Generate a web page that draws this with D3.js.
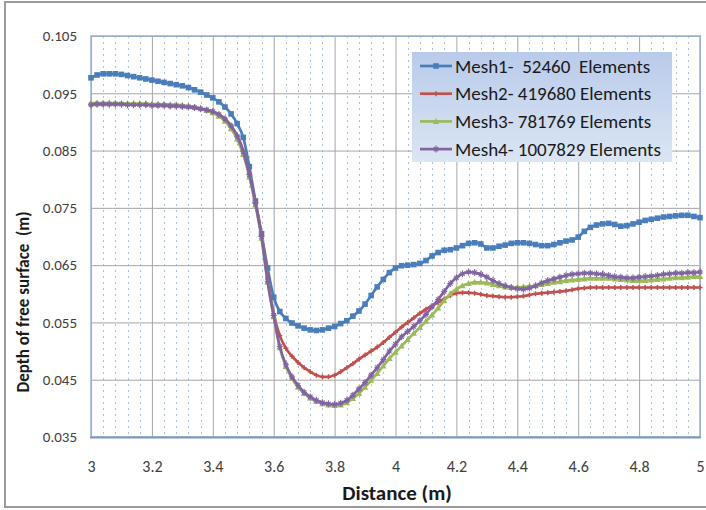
<!DOCTYPE html>
<html><head><meta charset="utf-8">
<script src="https://cdn.jsdelivr.net/npm/d3@7"></script>
<style>
html,body{margin:0;padding:0;background:#fff;}
svg text{font-family:Carlito,Lato,"Open Sans",sans-serif;white-space:pre;}
</style></head>
<body><svg id="c" width="706" height="510"></svg>
<script>
// ---------------- data ----------------
const distance = [
3.00,3.02,3.04,3.06,3.08,3.10,3.12,3.14,3.16,3.18,
3.20,3.22,3.24,3.26,3.28,3.30,3.32,3.34,3.36,3.38,
3.40,3.42,3.44,3.46,3.48,3.50,3.52,3.54,3.56,3.58,
3.60,3.62,3.64,3.66,3.68,3.70,3.72,3.74,3.76,3.78,
3.80,3.82,3.84,3.86,3.88,3.90,3.92,3.94,3.96,3.98,
4.00,4.02,4.04,4.06,4.08,4.10,4.12,4.14,4.16,4.18,
4.20,4.22,4.24,4.26,4.28,4.30,4.32,4.34,4.36,4.38,
4.40,4.42,4.44,4.46,4.48,4.50,4.52,4.54,4.56,4.58,
4.60,4.62,4.64,4.66,4.68,4.70,4.72,4.74,4.76,4.78,
4.80,4.82,4.84,4.86,4.88,4.90,4.92,4.94,4.96,4.98,
5.00];
const mesh1 = [
0.0977,0.0982,0.0984,0.0984,0.0984,0.0983,0.0981,0.0979,0.0977,0.0975,
0.0973,0.0971,0.0969,0.0967,0.0965,0.0963,0.0960,0.0956,0.0952,0.0947,
0.0942,0.0935,0.0926,0.0914,0.0897,0.0873,0.0822,0.0762,0.0705,0.0645,
0.0594,0.0569,0.0557,0.0549,0.0544,0.0540,0.0537,0.0536,0.0537,0.0540,
0.0543,0.0548,0.0553,0.0561,0.0570,0.0582,0.0597,0.0612,0.0625,0.0637,
0.0645,0.0649,0.0650,0.0651,0.0653,0.0658,0.0666,0.0672,0.0676,0.0677,
0.0680,0.0684,0.0688,0.0689,0.0687,0.0680,0.0680,0.0683,0.0685,0.0688,
0.0689,0.0689,0.0688,0.0686,0.0684,0.0684,0.0686,0.0689,0.0692,0.0694,
0.0699,0.0709,0.0716,0.0720,0.0722,0.0723,0.0721,0.0718,0.0719,0.0722,
0.0725,0.0728,0.0730,0.0732,0.0734,0.0735,0.0736,0.0737,0.0737,0.0735,
0.0733];
const mesh2 = [
0.0931,0.0931,0.0931,0.0931,0.0931,0.0931,0.0931,0.0930,0.0930,0.0930,
0.0930,0.0929,0.0929,0.0928,0.0928,0.0927,0.0926,0.0925,0.0923,0.0921,
0.0918,0.0913,0.0905,0.0893,0.0876,0.0850,0.0810,0.0760,0.0703,0.0628,
0.0565,0.0527,0.0505,0.0491,0.0480,0.0471,0.0464,0.0458,0.0455,0.0455,
0.0458,0.0464,0.0471,0.0478,0.0486,0.0493,0.0500,0.0507,0.0515,0.0524,
0.0533,0.0542,0.0550,0.0558,0.0566,0.0573,0.0579,0.0585,0.0591,0.0597,
0.0601,0.0602,0.0602,0.0601,0.0599,0.0597,0.0596,0.0595,0.0594,0.0594,
0.0595,0.0596,0.0598,0.0600,0.0601,0.0602,0.0603,0.0604,0.0605,0.0607,
0.0609,0.0610,0.0611,0.0611,0.0611,0.0611,0.0611,0.0611,0.0611,0.0611,
0.0611,0.0611,0.0611,0.0611,0.0611,0.0611,0.0611,0.0611,0.0611,0.0611,
0.0611];
const mesh3 = [
0.0933,0.0933,0.0933,0.0933,0.0933,0.0932,0.0932,0.0932,0.0932,0.0932,
0.0931,0.0931,0.0931,0.0930,0.0930,0.0929,0.0928,0.0926,0.0923,0.0920,
0.0916,0.0910,0.0901,0.0888,0.0870,0.0843,0.0804,0.0755,0.0697,0.0620,
0.0560,0.0506,0.0473,0.0452,0.0437,0.0426,0.0418,0.0412,0.0408,0.0406,
0.0405,0.0406,0.0410,0.0417,0.0426,0.0437,0.0449,0.0461,0.0474,0.0487,
0.0498,0.0509,0.0520,0.0531,0.0541,0.0552,0.0563,0.0575,0.0588,0.0600,
0.0608,0.0614,0.0618,0.0620,0.0620,0.0619,0.0616,0.0614,0.0612,0.0611,
0.0611,0.0612,0.0613,0.0614,0.0616,0.0618,0.0620,0.0621,0.0623,0.0624,
0.0625,0.0626,0.0627,0.0627,0.0627,0.0627,0.0626,0.0625,0.0624,0.0623,
0.0623,0.0623,0.0624,0.0625,0.0626,0.0627,0.0628,0.0628,0.0629,0.0630,
0.0630];
const mesh4 = [
0.0930,0.0931,0.0931,0.0931,0.0931,0.0931,0.0930,0.0930,0.0930,0.0930,
0.0929,0.0929,0.0929,0.0928,0.0928,0.0927,0.0926,0.0925,0.0923,0.0921,
0.0918,0.0913,0.0905,0.0893,0.0875,0.0848,0.0808,0.0758,0.0700,0.0622,
0.0562,0.0508,0.0476,0.0455,0.0440,0.0428,0.0420,0.0414,0.0410,0.0408,
0.0407,0.0409,0.0414,0.0423,0.0434,0.0445,0.0458,0.0471,0.0485,0.0500,
0.0512,0.0525,0.0534,0.0543,0.0553,0.0564,0.0577,0.0590,0.0604,0.0618,
0.0628,0.0635,0.0638,0.0637,0.0634,0.0629,0.0623,0.0618,0.0614,0.0611,
0.0609,0.0608,0.0610,0.0614,0.0619,0.0623,0.0626,0.0629,0.0632,0.0634,
0.0635,0.0636,0.0636,0.0635,0.0634,0.0632,0.0630,0.0629,0.0628,0.0628,
0.0629,0.0630,0.0631,0.0632,0.0634,0.0635,0.0636,0.0636,0.0637,0.0637,
0.0638];
const seriesNames = ["Mesh1-  52460  Elements","Mesh2- 419680 Elements","Mesh3- 781769 Elements","Mesh4- 1007829 Elements"];
const seriesColors = ["#4a7ebb","#c0504d","#9bbb59","#8064a2"];
const seriesMarkers = ["square","plus","triangle","star"];
const xTicks = [3,3.2,3.4,3.6,3.8,4,4.2,4.4,4.6,4.8,5];
const yTicks = [0.035,0.045,0.055,0.065,0.075,0.085,0.095,0.105];
const xTitle = "Distance (m)";
const yTitle = "Depth of free surface  (m)";

// ---------------- chart ----------------
const svg = d3.select("#c");
const L=91, R=700, T=36, B=437;
const x = d3.scaleLinear().domain([3,5]).range([L,R]);
const y = d3.scaleLinear().domain([0.035,0.105]).range([B,T]);

// outer frame
svg.append("rect").attr("x",5).attr("y",2).attr("width",710).attr("height",505)
  .attr("fill","#fff").attr("stroke","#9a9a9a").attr("stroke-width",2);

// minor vertical dotted gridlines
const minor = d3.range(0,51).map(i=>3+i*0.04).filter((v,i)=>i%5!==0);
svg.append("g").selectAll("line").data(minor).join("line")
  .attr("x1",d=>Math.round(x(d))+0.5).attr("x2",d=>Math.round(x(d))+0.5)
  .attr("y1",T).attr("y2",B)
  .attr("stroke","#a9bfe3").attr("stroke-width",1).attr("stroke-dasharray","2,4");

// major gridlines
const gx = d3.axisBottom(x).tickValues(xTicks).tickSize(-(B-T)).tickFormat("");
svg.append("g").attr("transform",`translate(0,${B})`).call(gx)
  .call(g=>g.select(".domain").remove())
  .call(g=>g.selectAll("line").attr("stroke","#a6a6a6"));
const gy = d3.axisLeft(y).tickValues(yTicks).tickSize(-(R-L)).tickFormat("");
svg.append("g").attr("transform",`translate(${L},0)`).call(gy)
  .call(g=>g.select(".domain").remove())
  .call(g=>g.selectAll("line").attr("stroke","#a6a6a6"));

// plot border
svg.append("rect").attr("x",L).attr("y",T).attr("width",R-L).attr("height",B-T)
  .attr("fill","none").attr("stroke","#95b3d7").attr("stroke-width",1.5);
svg.append("line").attr("x1",L-1).attr("x2",R+1).attr("y1",B+0.5).attr("y2",B+0.5)
  .attr("stroke","#7f98bf").attr("stroke-width",2);

// tick labels via axes
const ax = d3.axisBottom(x).tickValues(xTicks).tickSize(0).tickPadding(24).tickFormat(d3.format("~g"));
svg.append("g").attr("transform",`translate(0,${B})`).call(ax)
  .call(g=>g.select(".domain").remove())
  .call(g=>g.selectAll("text").attr("font-size",16).attr("fill","#404040").style("font-family","Carlito,Lato,sans-serif"));
const ay = d3.axisLeft(y).tickValues(yTicks).tickSize(0).tickPadding(14).tickFormat(d3.format(".3f"));
svg.append("g").attr("transform",`translate(${L},0)`).call(ay)
  .call(g=>g.select(".domain").remove())
  .call(g=>g.selectAll("text").attr("font-size",15).attr("fill","#404040").style("font-family","Carlito,Lato,sans-serif"));

// titles
svg.append("text").attr("x",397).attr("y",500).attr("text-anchor","middle")
  .attr("font-size",21).attr("font-weight","bold").attr("fill","#1a1a1a").text(xTitle);
svg.append("text").attr("transform","translate(29,302) rotate(-90)").attr("text-anchor","middle")
  .attr("font-size",17).attr("font-weight","bold").attr("fill","#1a1a1a").text(yTitle);

// series
const allSeries = [mesh1,mesh2,mesh3,mesh4];
const line = d3.line().x(d=>x(d[0])).y(d=>y(d[1])).curve(d3.curveMonotoneX);
function drawMarker(g, type, color){
  if(type==="square") g.append("rect").attr("x",-2.8).attr("y",-2.8).attr("width",5.6).attr("height",5.6).attr("fill",color);
  else if(type==="triangle") g.append("path").attr("d","M0,-3.5L3.2,2.5L-3.2,2.5Z").attr("fill",color);
  else if(type==="plus") g.append("path").attr("d","M-2.5,0H2.5M0,-2.5V2.5").attr("stroke",color).attr("stroke-width",1.5);
  else if(type==="star") g.append("path").attr("d","M-3,0H3M0,-3.5V3.5M-2.2,-2.2L2.2,2.2M-2.2,2.2L2.2,-2.2").attr("stroke",color).attr("stroke-width",1.1);
}
allSeries.forEach((vals,si)=>{
  const pts = distance.map((d,i)=>[d,vals[i]]);
  const g = svg.append("g");
  g.append("path").datum(pts).attr("d",line).attr("fill","none")
    .attr("stroke",seriesColors[si]).attr("stroke-width",2.7);
  g.selectAll("g.m").data(pts).join("g").attr("class","m")
    .attr("transform",d=>`translate(${x(d[0])},${y(d[1])})`)
    .each(function(){ drawMarker(d3.select(this), seriesMarkers[si], seriesColors[si]); });
});

// legend
const defs = svg.append("defs");
const grad = defs.append("linearGradient").attr("id","lg").attr("x1",0).attr("y1",0).attr("x2",0).attr("y2",1);
grad.append("stop").attr("offset","0%").attr("stop-color","#b9cbea");
grad.append("stop").attr("offset","100%").attr("stop-color","#dbe5f4");
const lgX=412, lgY=52, lgW=260, lgH=110;
svg.append("rect").attr("x",lgX).attr("y",lgY).attr("width",lgW).attr("height",lgH).attr("fill","url(#lg)");
seriesNames.forEach((name,i)=>{
  const cy = 66 + i*27.7;
  const g = svg.append("g");
  g.append("line").attr("x1",420).attr("x2",452).attr("y1",cy).attr("y2",cy)
    .attr("stroke",seriesColors[i]).attr("stroke-width",2.7);
  const m = g.append("g").attr("transform",`translate(436,${cy})`);
  drawMarker(m, seriesMarkers[i], seriesColors[i]);
  g.append("text").attr("x",455).attr("y",cy).attr("dy","0.35em")
    .attr("font-size",19).attr("fill","#1a1a1a").text(name);
});
</script></body></html>
